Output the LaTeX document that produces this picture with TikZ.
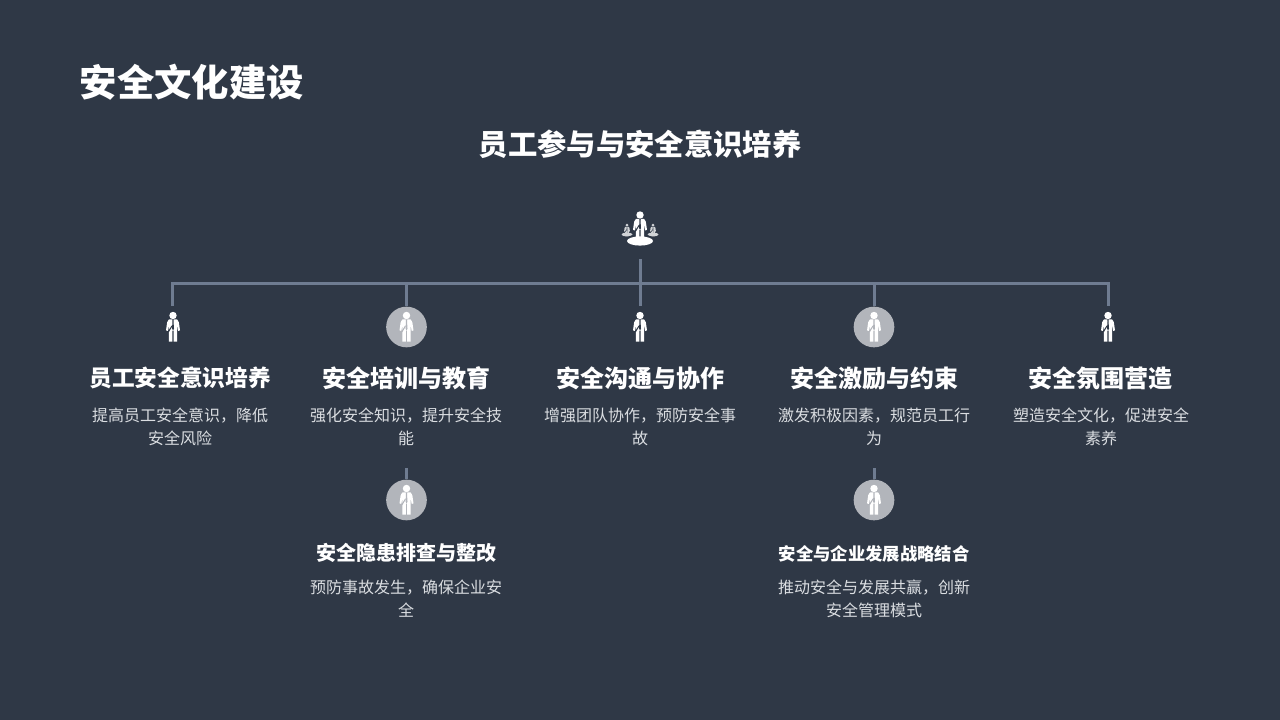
\documentclass[tikz,border=0pt]{standalone}
\usepackage{fontspec}
\setmainfont{Noto Sans CJK SC}
\definecolor{bgc}{HTML}{2F3846}
\definecolor{linec}{HTML}{6F7C91}
\definecolor{descc}{HTML}{DADDE1}
\definecolor{discc}{HTML}{B2B5BB}
\tikzset{
  x=0.75pt,y=-0.75pt,
  conn/.style={draw=linec,line width=2.25pt},
  disc/.style={circle,fill=discc,minimum size=30.5pt,inner sep=0pt},
  titletext/.style={text=white,font=\fontsize{28pt}{32pt}\selectfont\bfseries,inner sep=0pt},
  subtitletext/.style={text=white,font=\fontsize{22pt}{26pt}\selectfont\bfseries,inner sep=0pt},
  headtext/.style={text=white,font=\fontsize{18pt}{22pt}\selectfont\bfseries,inner sep=0pt,align=center},
  desctext/.style={text=descc,font=\fontsize{12pt}{17.3pt}\selectfont,inner sep=0pt,align=center},
  pics/person/.style n args={2}{code={
    \fill[#1] (0,-11.5) circle[radius=3.7];
    \fill[#1] (-4,-7.6) -- (4,-7.6) to[out=0,in=-100] (5.8,-5) -- (7,3.4) -- (5.2,4) -- (4.2,-2)
      -- (4.2,14.6) -- (0.6,14.6) -- (0.6,3.5) -- (-0.6,3.5) -- (-0.6,14.6) -- (-4.2,14.6) -- (-4.2,-2)
      -- (-5.2,4) -- (-7,3.4) -- (-5.8,-5) to[out=-80,in=180] cycle;
    \fill[#2] (-0.8,-7.6) -- (0.8,-7.6) -- (0.5,-5.5) -- (1,1.5) -- (0,3.5) -- (-1,1.5) -- (-0.5,-5.5) -- cycle;
    \fill[#2] (-1.3,-1.5) -- (-0.8,-0.5) -- (-4.2,5.2) -- (-5.2,4.6) -- cycle;
  }}
}
\begin{document}
\begin{tikzpicture}
\useasboundingbox (0,0) rectangle (1280,720);
\fill[bgc] (0,0) rectangle (1280,720);

\node[titletext,anchor=west] (title) at (79.5,82) {安全文化建设};
\node[subtitletext] (subtitle) at (640,144) {员工参与与安全意识培养};

% central icon
\fill[white!78!bgc] (627,234.5) ellipse[x radius=5.5,y radius=2];
\fill[white!78!bgc] (653,234.5) ellipse[x radius=5.5,y radius=2];
\pic[scale=0.42] at (627,230) {person={white!78!bgc}{bgc}};
\pic[scale=0.42] at (653,230) {person={white!78!bgc}{bgc}};
\fill[bgc] (640,240.5) ellipse[x radius=15,y radius=6];
\fill[white] (640,241) ellipse[x radius=13,y radius=4.6];
\pic[scale=1] at (640,226.5) {person={white}{bgc}};

% connector anchors
\coordinate (root) at (640,259);
\coordinate (bus) at (640,283);
\coordinate (busA) at (172,283);
\coordinate (busE) at (1108,283);
\coordinate (endA) at (172,306);
\coordinate (endC) at (640,306);
\coordinate (endE) at (1108,306);
\coordinate (busB) at (406.5,283);
\coordinate (busD) at (874,283);
\coordinate (subB) at (406.5,468);
\coordinate (subD) at (874,468);

\node[disc] (discB) at (406.5,327) {};
\node[disc] (discD) at (874,327) {};
\node[disc] (discF) at (406.5,500) {};
\node[disc] (discG) at (874,500) {};

\draw[conn] (root) -- (bus);
\draw[conn] (endA) -- (busA) -- (busE) -- (endE);
\draw[conn] (bus) -- (endC);
\draw[conn] (busB) -- (discB.north);
\draw[conn] (busD) -- (discD.north);
\draw[conn] (subB) -- (discF.north);
\draw[conn] (subD) -- (discG.north);

\pic at (173,327) {person={white}{bgc}};
\pic at (640,327) {person={white}{bgc}};
\pic at (1108,327) {person={white}{bgc}};
\pic at (406.5,327) {person={white}{discc}};
\pic at (874,327) {person={white}{discc}};
\pic at (406.5,500) {person={white}{discc}};
\pic at (874,500) {person={white}{discc}};

\node[headtext,font=\fontsize{17pt}{21pt}\selectfont\bfseries] (h1) at (180,378) {员工安全意识培养};
\node[desctext] (d1) at (180,426.5) {提高员工安全意识，降低\\安全风险};
\node[headtext] (h2) at (406,378) {安全培训与教育};
\node[desctext] (d2) at (406,426.5) {强化安全知识，提升安全技\\能};
\node[headtext] (h3) at (640,378) {安全沟通与协作};
\node[desctext] (d3) at (640,426.5) {增强团队协作，预防安全事\\故};
\node[headtext] (h4) at (874,378) {安全激励与约束};
\node[desctext] (d4) at (874,426.5) {激发积极因素，规范员工行\\为};
\node[headtext] (h5) at (1100.5,378) {安全氛围营造};
\node[desctext] (d5) at (1101,426.5) {塑造安全文化，促进安全\\素养};
\node[headtext,font=\fontsize{15pt}{19pt}\selectfont\bfseries] (h6) at (406,552.5) {安全隐患排查与整改};
\node[desctext] (d6) at (406,599) {预防事故发生，确保企业安\\全};
\node[headtext,font=\fontsize{13pt}{17pt}\selectfont\bfseries] (h7) at (874,553.5) {安全与企业发展战略结合};
\node[desctext] (d7) at (874,599) {推动安全与发展共赢，创新\\安全管理模式};
\end{tikzpicture}
\end{document}
